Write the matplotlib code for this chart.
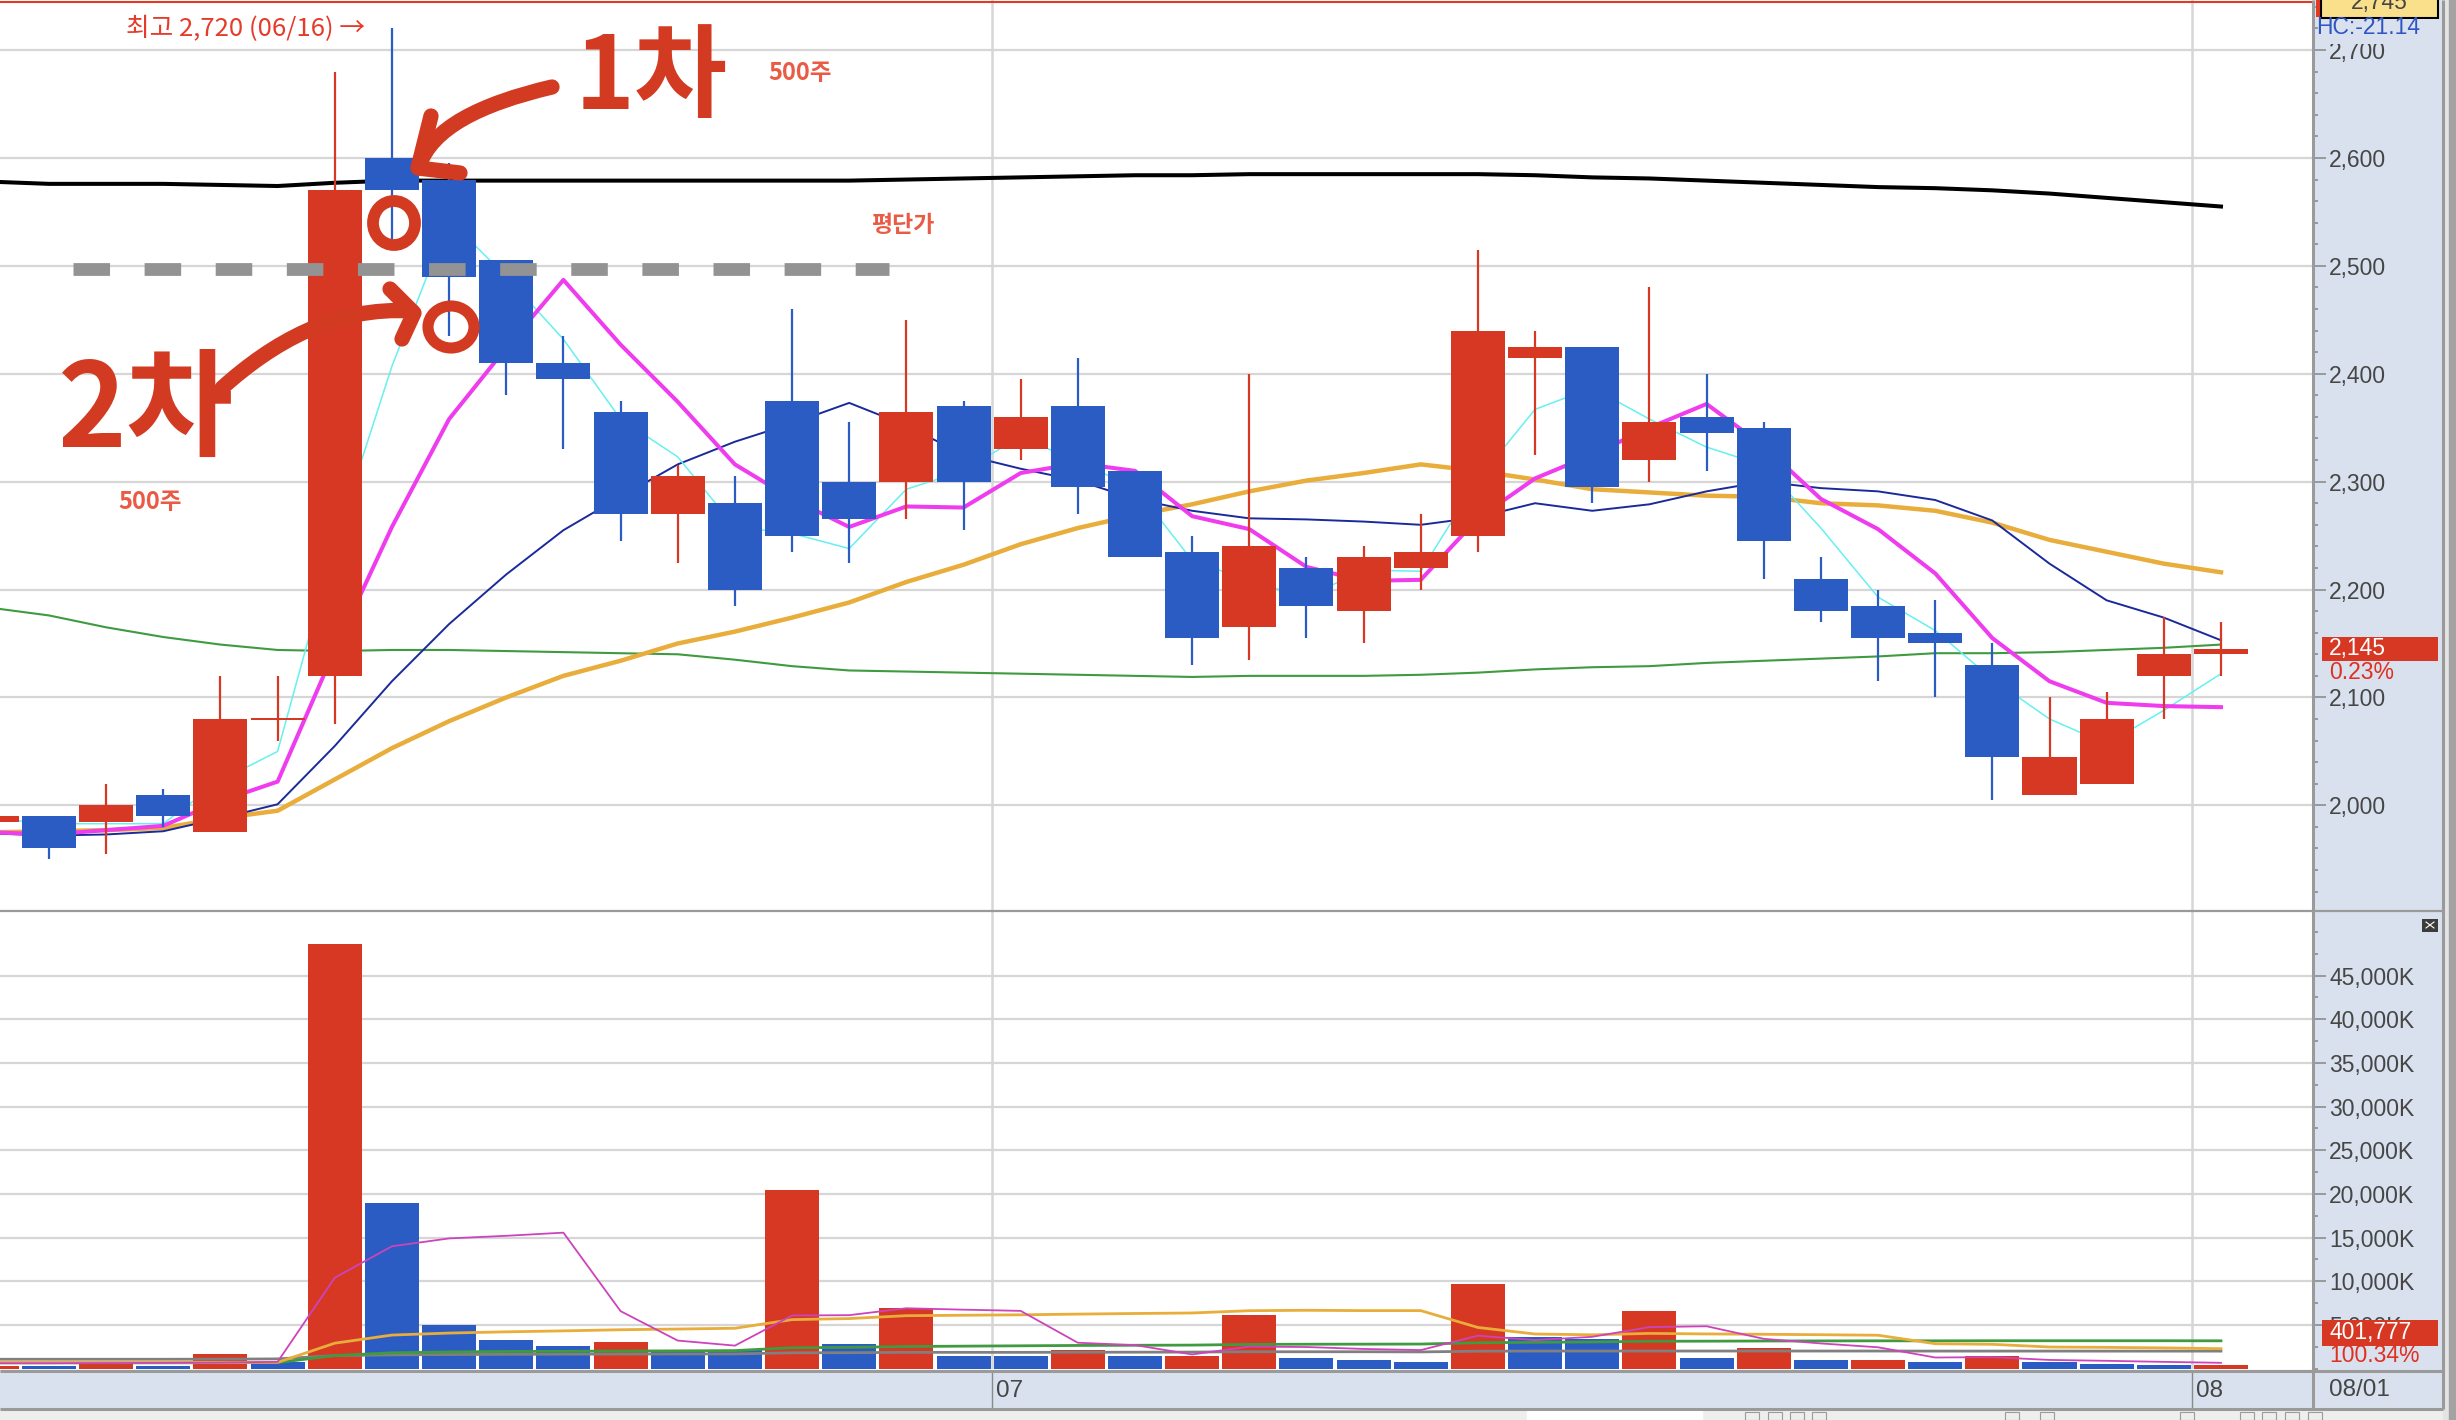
import numpy as np
import matplotlib
matplotlib.use("Agg")
import matplotlib.pyplot as plt
from matplotlib.patches import Rectangle, Ellipse, PathPatch
from matplotlib.path import Path
from matplotlib.ticker import FixedLocator, MultipleLocator, FuncFormatter
from matplotlib.transforms import blended_transform_factory

plt.rcParams['font.family'] = ['Noto Sans CJK KR', 'DejaVu Sans']
plt.rcParams['lines.scale_dashes'] = False
plt.rcParams['axes.unicode_minus'] = False

# ---------------- data ----------------
dates = ['06/07', '06/08', '06/09', '06/12', '06/13', '06/14', '06/15', '06/16',
         '06/19', '06/20', '06/21', '06/22', '06/23', '06/26', '06/27', '06/28',
         '06/29', '06/30',
         '07/03', '07/04', '07/05', '07/06', '07/07', '07/10', '07/11', '07/12',
         '07/13', '07/14', '07/17', '07/18', '07/19', '07/20', '07/21', '07/24',
         '07/25', '07/26', '07/27', '07/28', '07/31',
         '08/01']

opens = [1985, 1990, 1985, 2010, 1975, 2080, 2120, 2600, 2580, 2505,
         2410, 2365, 2270, 2280, 2375, 2300, 2300, 2370, 2330, 2370,
         2310, 2235, 2165, 2220, 2180, 2220, 2250, 2415, 2425, 2320,
         2360, 2350, 2210, 2185, 2160, 2130, 2010, 2020, 2120, 2140]
highs = [1990, 1990, 2020, 2015, 2120, 2120, 2680, 2720, 2595, 2505,
         2435, 2375, 2315, 2305, 2460, 2355, 2450, 2375, 2395, 2415,
         2310, 2250, 2400, 2230, 2240, 2270, 2515, 2440, 2425, 2480,
         2400, 2355, 2230, 2200, 2190, 2150, 2100, 2105, 2175, 2170]
lows = [1985, 1950, 1955, 1980, 1975, 2060, 2075, 2525, 2435, 2380,
        2330, 2245, 2225, 2185, 2235, 2225, 2265, 2255, 2320, 2270,
        2230, 2130, 2135, 2155, 2150, 2200, 2235, 2325, 2280, 2300,
        2310, 2210, 2170, 2115, 2100, 2005, 2010, 2020, 2080, 2120]
closes = [1990, 1960, 2000, 1990, 2080, 2080, 2570, 2570, 2490, 2410,
          2395, 2270, 2305, 2200, 2250, 2265, 2365, 2300, 2360, 2295,
          2230, 2155, 2240, 2185, 2230, 2235, 2440, 2425, 2295, 2355,
          2345, 2245, 2180, 2155, 2150, 2045, 2045, 2080, 2140, 2145]

ma3 = [1988, 1983, 1983, 1983, 2023, 2050, 2243, 2407, 2543, 2490,
       2432, 2358, 2323, 2258, 2252, 2238, 2293, 2310, 2342, 2318,
       2295, 2227, 2208, 2193, 2218, 2217, 2302, 2367, 2387, 2358,
       2332, 2315, 2257, 2193, 2162, 2117, 2080, 2057, 2088, 2122]
ma5 = [1975, 1973, 1977, 1981, 2004, 2022, 2144, 2258, 2358, 2424,
       2487, 2427, 2374, 2316, 2284, 2258, 2277, 2276, 2308, 2317,
       2310, 2268, 2256, 2221, 2208, 2209, 2266, 2303, 2325, 2350,
       2372, 2333, 2284, 2256, 2215, 2155, 2115, 2095, 2092, 2091]
ma10 = [1974, 1972, 1973, 1976, 1988, 2001, 2055, 2115, 2168, 2214,
        2255, 2286, 2316, 2337, 2354, 2373, 2352, 2325, 2312, 2301,
        2284, 2273, 2266, 2265, 2263, 2260, 2267, 2280, 2273, 2279,
        2291, 2300, 2294, 2291, 2283, 2264, 2224, 2190, 2174, 2153]
ma20 = [1975, 1976, 1977, 1979, 1988, 1995, 2024, 2053, 2078, 2100,
        2120, 2134, 2150, 2161, 2174, 2188, 2207, 2223, 2242, 2257,
        2269, 2279, 2291, 2301, 2308, 2316, 2310, 2302, 2293, 2290,
        2287, 2286, 2280, 2278, 2273, 2262, 2246, 2235, 2224, 2216]
ma60 = [2183, 2176, 2165, 2156, 2149, 2144, 2143, 2144, 2144, 2143,
        2142, 2141, 2140, 2135, 2129, 2125, 2124, 2123, 2122, 2121,
        2120, 2119, 2120, 2120, 2120, 2121, 2123, 2126, 2128, 2129,
        2132, 2134, 2136, 2138, 2141, 2141, 2142, 2144, 2146, 2149]
ma120 = [2578, 2576, 2576, 2576, 2575, 2574, 2577, 2579, 2579, 2579,
         2579, 2579, 2579, 2579, 2579, 2579, 2580, 2581, 2582, 2583,
         2584, 2584, 2585, 2585, 2585, 2585, 2585, 2584, 2582, 2581,
         2579, 2577, 2575, 2573, 2572, 2570, 2567, 2563, 2559, 2555]

# volume in thousands of shares
volume = [330, 260, 710, 290, 1660, 745, 48590, 18990, 5000, 3265,
          2580, 3035, 2120, 2110, 20450, 2810, 6980, 1430, 1420, 2120,
          1430, 1440, 6130, 1200, 975, 745, 9680, 3610, 3400, 6620,
          1200, 2350, 975, 985, 745, 1430, 745, 515, 400.417, 401.777]
vma5 = [600, 600, 620, 640, 680, 760, 10400, 14000, 14900, 15200,
        15560, 6570, 3200, 2620, 6070, 6110, 6900, 6740, 6600, 2950,
        2680, 1610, 2510, 2460, 2240, 2110, 3760, 3250, 3630, 4740,
        4840, 3400, 2870, 2430, 1260, 1300, 980, 880, 760, 650]
vma20 = [700, 700, 700, 700, 700, 700, 2900, 3830, 4060, 4200,
         4310, 4440, 4520, 4610, 5600, 5720, 6050, 6100, 6150, 6230,
         6300, 6360, 6620, 6670, 6630, 6630, 4700, 3950, 3860, 4020,
         3960, 3920, 3870, 3810, 2840, 2770, 2460, 2420, 2360, 2270]
vma60 = [650, 650, 650, 650, 660, 680, 1480, 1800, 1900, 1950,
         1970, 2000, 2020, 2050, 2380, 2420, 2520, 2560, 2600, 2640,
         2660, 2680, 2760, 2780, 2790, 2800, 2950, 3000, 3040, 3120,
         3130, 3150, 3160, 3170, 3170, 3180, 3180, 3180, 3180, 3170]
vma120 = [1060, 1060, 1060, 1060, 1070, 1100, 1480, 1560, 1600, 1620,
          1640, 1650, 1660, 1670, 1800, 1810, 1850, 1850, 1850, 1860,
          1870, 1880, 1920, 1920, 1920, 1900, 1980, 2000, 2000, 2000,
          2000, 2000, 2000, 2000, 1995, 1995, 1995, 1990, 1990, 1990]

price_ticks = [2000, 2100, 2200, 2300, 2400, 2500, 2600, 2700]
vol_ticks = [5000, 10000, 15000, 20000, 25000, 30000, 35000, 40000, 45000]
avg_price = 2497          # 평단가
cursor_price = 2745       # crosshair price (yellow box)
cursor_change = '-21.14'

# ---------------- figure ----------------
W, H = 2456, 1420
fig = plt.figure(figsize=(W / 100, H / 100), dpi=100)

def box(x0, y0, x1, y1):
    return [x0 / W, 1 - y1 / H, (x1 - x0) / W, (y1 - y0) / H]

RED = '#d63823'
BLUE = '#2b5cc3'
PANEL = '#d8e1ed'
GRID = '#d6d6d6'
TXT = '#464646'
HAND = '#d23b22'
AXF = 'Liberation Sans'
AXS = 16.5

n = len(dates)
xs = np.arange(n)
XL = (0.143, 40.61)

# background axes (pixel coords)
bg = fig.add_axes([0, 0, 1, 1], zorder=-5)
bg.set_xlim(0, W); bg.set_ylim(H, 0); bg.axis('off')
bg.add_patch(Rectangle((0, 0), W, H, color='white'))
bg.add_patch(Rectangle((2313, 0), 130, 1410, color=PANEL))
bg.add_patch(Rectangle((0, 1370), 2443, 40, color=PANEL))
bg.add_patch(Rectangle((0, 1409), 2456, 11, color='#eeeeee'))
bg.add_patch(Rectangle((1527, 1410), 175, 10, color='white'))
for xi in (1745, 1768, 1790, 1812, 2005, 2040, 2180, 2240, 2262, 2285, 2308):
    bg.add_patch(Rectangle((xi, 1412), 14, 8, facecolor='none', edgecolor='#9a9a9a', lw=0.8))
bg.add_patch(Rectangle((2443, 0), 13, 1420, color='#e4e4e4'))
bg.add_patch(Rectangle((2449, 0), 7, 1420, color='#a3a3a3'))

# ---------------- price panel ----------------
ax = fig.add_axes(box(0, 0, 2313, 910))
ax.set_xlim(*XL)
ax.set_ylim(1903, 2746.4)
ax.set_facecolor('white')
for s in ax.spines.values():
    s.set_visible(False)
ax.yaxis.tick_right()
ax.yaxis.set_major_locator(FixedLocator(price_ticks))
ax.yaxis.set_minor_locator(MultipleLocator(20))
ax.yaxis.set_major_formatter(FuncFormatter(lambda v, p: f'{int(v):,}'))
ax.tick_params(axis='y', which='major', length=9.4, width=1.2, color='#8c8c8c',
               pad=2.2, labelsize=AXS, labelcolor=TXT, labelfontfamily=AXF)
ax.tick_params(axis='y', which='minor', length=3.6, width=1.2, color='#8c8c8c')
ax.tick_params(axis='x', bottom=False, labelbottom=False)
ax.grid(axis='y', which='major', color=GRID, lw=1.6, zorder=0)
ax.set_axisbelow(True)

# month boundaries
bounds = [k - 0.5 for k in range(1, n) if dates[k][:2] != dates[k - 1][:2]]
for b in bounds:
    ax.axvline(b, color=GRID, lw=1.8, zorder=0.5)

# top reference line
ax.axhline(cursor_price, color='#e23a22', lw=1.5, zorder=1)

# moving averages (behind candles)
ax.plot(xs, ma60, color='#3f9a40', lw=1.5, zorder=2)
ax.plot(xs, ma120, color='black', lw=2.9, zorder=2)
ax.plot(xs, ma20, color='#e8ad3a', lw=3.2, zorder=2)
ax.plot(xs, ma10, color='#1a2a9a', lw=1.4, zorder=2.1)
ax.plot(xs, ma3, color='#66f0f0', lw=1.1, zorder=2.2)
ax.plot(xs, ma5, color='#ee3cee', lw=2.9, zorder=2.3)

# candles
o = np.array(opens, float); c = np.array(closes, float)
cols = [RED if cc >= oo else BLUE for oo, cc in zip(o, c)]
body_h = np.maximum(np.abs(c - o), 1.9)
body_b = np.minimum(o, c) - (body_h - np.abs(c - o)) / 2
ax.vlines(xs, lows, highs, colors=cols, lw=1.6, zorder=5)
ax.bar(xs, body_h, bottom=body_b, width=0.945, color=cols, lw=0, zorder=6)

# average price dashed line
k0 = dates.index('06/08'); k1 = dates.index('06/28')
ax.plot([k0 + 0.415, k1 + 0.70], [avg_price, avg_price], color='#939393', lw=9.2,
        dashes=(26.3, 24.9), dash_capstyle='butt', zorder=7)

# highest annotation
kh = int(np.argmax(highs))
ax.text(kh - 0.47, highs[kh], f'최고 {highs[kh]:,} ({dates[kh]}) →', ha='right', va='center',
        fontsize=18.5, color='#e63b2a', zorder=8)

# ---------------- volume panel ----------------
av = fig.add_axes(box(0, 912, 2313, 1368.5))
av.set_xlim(*XL)
av.set_ylim(0, 52290)
av.set_facecolor('white')
for s in av.spines.values():
    s.set_visible(False)
av.yaxis.tick_right()
av.yaxis.set_major_locator(FixedLocator(vol_ticks))
av.yaxis.set_minor_locator(MultipleLocator(2500))
av.yaxis.set_major_formatter(FuncFormatter(lambda v, p: f'{int(v):,}K'))
av.tick_params(axis='y', which='major', length=9.4, width=1.2, color='#8c8c8c',
               pad=2.2, labelsize=AXS, labelcolor=TXT, labelfontfamily=AXF)
av.tick_params(axis='y', which='minor', length=3.6, width=1.2, color='#8c8c8c')
av.tick_params(axis='x', bottom=False, labelbottom=False)
av.grid(axis='y', which='major', color=GRID, lw=1.6, zorder=0)
av.set_axisbelow(True)
for b in bounds:
    av.axvline(b, color=GRID, lw=1.8, zorder=0.5)

vcols = [RED] + [RED if volume[k] > volume[k - 1] else BLUE for k in range(1, n)]
av.bar(xs, volume, width=0.945, color=vcols, lw=0, zorder=3)
av.plot(xs, vma120, color='#808080', lw=2.0, zorder=4)
av.plot(xs, vma60, color='#3f9a40', lw=2.0, zorder=4)
av.plot(xs, vma20, color='#e8ad3a', lw=2.0, zorder=4)
av.plot(xs, vma5, color='#cc44bb', lw=1.3, zorder=4)

# ---------------- date strip ----------------
ad = fig.add_axes(box(0, 1372, 2313, 1408))
ad.set_xlim(*XL); ad.set_ylim(0, 1)
ad.axis('off')
for k in range(1, n):
    if dates[k][:2] != dates[k - 1][:2]:
        ad.axvline(k - 0.5, color='#8a8a8a', lw=1.0)
        ad.text(k - 0.5 + 0.06, 0.48, dates[k][:2], ha='left', va='center',
                fontsize=AXS + 1, color=TXT, family=AXF)

# ---------------- overlay (pixel coords) ----------------
ov = fig.add_axes([0, 0, 1, 1], zorder=10)
ov.set_xlim(0, W); ov.set_ylim(H, 0); ov.axis('off')
ov.patch.set_alpha(0)

# frame lines
for (x0, y0, x1, y1, lw) in [(0, 911, 2443, 911, 1.6), (0, 1370.5, 2443, 1370.5, 2.2),
                             (0, 1408.5, 2443, 1408.5, 2.2), (2313, 0, 2313, 1409, 2.2),
                             (2443, 0, 2443, 1409, 2.2)]:
    ov.plot([x0, x1], [y0, y1], color='#9a9a9a', lw=lw, solid_capstyle='butt')

# last-date label in the axis panel
ov.text(2329, 1390, dates[-1], ha='left', va='center', fontsize=AXS + 1, color=TXT, family=AXF)

# cursor box at top right
ov.add_patch(Rectangle((2316, -10), 30, 27, color='#e23a22', lw=0))
ov.add_patch(Rectangle((2321, -10), 117, 28, facecolor='#fbe08c', edgecolor='black', lw=1.5))
ov.text(2379, 2, f'{cursor_price:,}', ha='center', va='center', fontsize=AXS, color=TXT, family=AXF)
ov.add_patch(Rectangle((2329, 18.5), 110, 25, color=PANEL, lw=0))
ov.text(2316, 27, f'HC:{cursor_change}', ha='left', va='center', fontsize=AXS,
        color='#2f55c4', family=AXF)

# current price label
tp = blended_transform_factory(ov.transData, ax.transData)
half = 11.4
ov.add_patch(Rectangle((2322, closes[-1] - half), 116, 2 * half, color=RED, lw=0, transform=tp))
ov.text(2329, closes[-1], f'{closes[-1]:,}', transform=tp, ha='left', va='center',
        fontsize=AXS, color='white', family=AXF)
pct = (closes[-1] / closes[-2] - 1) * 100
ov.text(2329, closes[-1] - 21.5, f'{pct:.2f}%', transform=tp, ha='left', va='center',
        fontsize=AXS, color='#e03020', family=AXF)

# current volume label (clamped near panel bottom)
ov.add_patch(Rectangle((2322, 1320), 116, 25.6, color=RED, lw=0))
ov.text(2329, 1333, f'{round(volume[-1] * 1000):,}', ha='left', va='center',
        fontsize=AXS, color='white', family=AXF)
vp = volume[-1] / volume[-2] * 100
ov.text(2329, 1356, f'{vp:.2f}%', ha='left', va='center', fontsize=AXS,
        color='#e03020', family=AXF)

# small panel icon
ov.add_patch(Rectangle((2422, 918.6), 16, 13, color='#3c3c3c', lw=0))
ov.plot([2426, 2434], [922, 928], color='white', lw=0.8)
ov.plot([2426, 2434], [928, 922], color='white', lw=0.8)

# labels
ov.text(800, 73, '500주', ha='center', va='center', fontsize=17, fontweight='bold', color='#ea5a45')
ov.text(150, 502, '500주', ha='center', va='center', fontsize=17, fontweight='bold', color='#ea5a45')
ov.text(903, 226, '평단가', ha='center', va='center', fontsize=16.5, fontweight='bold', color='#ea5a45')

# hand-drawn marks
ov.text(651, 80, '1차', ha='center', va='center', fontsize=73, fontweight='bold', color=HAND)
ov.text(146, 413, '2차', ha='center', va='center', fontsize=84, fontweight='bold', color=HAND)

def stroke(pts, codes=None, lw=11.0):
    ov.add_patch(PathPatch(Path(pts, codes), fill=False, edgecolor=HAND, lw=lw,
                           capstyle='round', joinstyle='round'))

C4 = [Path.MOVETO, Path.CURVE4, Path.CURVE4, Path.CURVE4]
stroke([(552, 87), (480, 104), (432, 128), (419, 166)], C4)
stroke([(431, 116), (418, 168), (460, 173)])
stroke([(222, 388), (272, 343), (335, 306), (412, 311)], C4)
stroke([(390, 289), (414, 313), (402, 339)])
ov.add_patch(Ellipse((394, 223), 42, 44, fill=False, edgecolor=HAND, lw=8.5))
ov.add_patch(Ellipse((451, 327), 46, 42, fill=False, edgecolor=HAND, lw=8.0))

fig.savefig('out.png', dpi=100)
